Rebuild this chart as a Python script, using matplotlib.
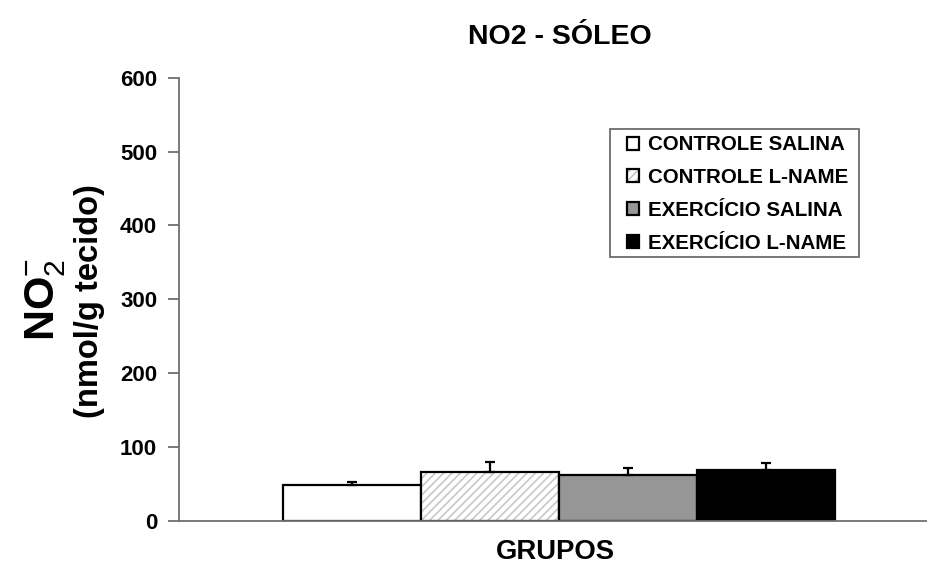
import matplotlib
matplotlib.use("Agg")
import matplotlib.pyplot as plt
from matplotlib.patches import Rectangle
from matplotlib.legend_handler import HandlerTuple

plt.rcParams['font.family'] = ['Liberation Sans', 'DejaVu Sans']
plt.rcParams['mathtext.fontset'] = 'custom'
plt.rcParams['mathtext.rm'] = 'Liberation Sans'
plt.rcParams['mathtext.bf'] = 'Liberation Sans:bold'
plt.rcParams['hatch.linewidth'] = 1.2

# ---- data ----
groups = ["CONTROLE SALINA", "CONTROLE L-NAME", "EXERCÍCIO SALINA", "EXERCÍCIO L-NAME"]
means = [49, 66, 62, 69]
errors = [4, 13, 9, 9]
yticks = [0, 100, 200, 300, 400, 500, 600]

colors = ["white", "white", "#969696", "black"]
hatches = [None, "////", None, None]

fig = plt.figure(figsize=(9.28, 5.65), dpi=100)
ax = fig.add_axes([179.3 / 928, 44.3 / 565, 1 - 179.3 / 928, 443 / 565])

x = list(range(len(groups)))
handles = []
for i, (m, c, h) in enumerate(zip(means, colors, hatches)):
    if h:
        hb = ax.bar(x[i], m, width=1.0, color=c, edgecolor="#c8c8c8", hatch=h, linewidth=0)
        ob = ax.bar(x[i], m, width=1.0, fill=False, edgecolor="black", linewidth=1.6)
        handles.append((hb[0], ob[0]))
    else:
        b = ax.bar(x[i], m, width=1.0, color=c, edgecolor="black", linewidth=1.6)
        handles.append(b[0])

ax.errorbar(x, means, yerr=[[0] * len(errors), errors], fmt="none",
            ecolor="black", elinewidth=1.6, capsize=3.5, capthick=1.6, zorder=3)

ax.set_xlim(-1.249, 4.174)
ax.set_ylim(0, 600)
ax.set_yticks(yticks)
ax.set_yticklabels([str(t) for t in yticks], fontsize=16, fontweight="bold")
ax.set_xticks([])
for s in ["top", "right"]:
    ax.spines[s].set_visible(False)
for s in ["left", "bottom"]:
    ax.spines[s].set_color("#707070")
    ax.spines[s].set_linewidth(1.3)
ax.tick_params(axis="y", direction="out", length=8, width=1.3, color="#707070", pad=8)
ax.patch.set_alpha(0)

# legend frame (drawn separately for independent horizontal / vertical padding)
ax.add_patch(Rectangle((0.575, 0.5946), 0.908 - 0.575, 0.8835 - 0.5946,
                       transform=ax.transAxes, facecolor="white",
                       edgecolor="#606060", linewidth=1.2, zorder=4))
leg = ax.legend(handles, groups, loc="upper left", bbox_to_anchor=(0.598, 0.870),
                borderaxespad=0, frameon=False,
                prop={"family": "Liberation Sans", "weight": "bold", "size": 14.8},
                handlelength=0.6, handleheight=0.6, handletextpad=0.44,
                labelspacing=0.67, borderpad=0,
                handler_map={tuple: HandlerTuple(ndivide=1, pad=0)})
leg.set_zorder(5)

fig.text(560 / 928, 1 - 37 / 565, "NO2 - SÓLEO", ha="center", va="center",
         fontsize=20.5, fontweight="bold")
fig.text(555.5 / 928, 1 - 552 / 565, "GRUPOS", ha="center", va="center",
         fontsize=19.8, fontweight="bold")
fig.text(46 / 928, 1 - 299 / 565, r"$\mathbf{NO}_{\mathrm{2}}^{\mathrm{-}}$",
         rotation=90, ha="center", va="center", fontsize=31)
fig.text(90 / 928, 1 - 301 / 565, "(nmol/g tecido)", rotation=90,
         ha="center", va="center", fontsize=23.5, fontweight="bold")

fig.savefig("out.png", dpi=100, facecolor="white")
